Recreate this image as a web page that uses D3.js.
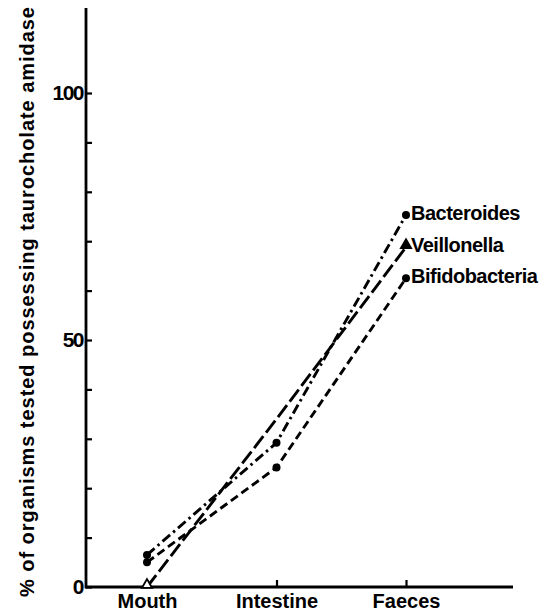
<!DOCTYPE html>
<html lang="en">
<head>
  <meta charset="UTF-8" />
  <title>Taurocholate amidase</title>
  <style>
    body { margin: 0; background: #fff; }
    svg { display: block; }
    text { font-family: "Liberation Sans", Arial, sans-serif; font-weight: bold; fill: #000; }
  </style>
  <script src="https://cdn.jsdelivr.net/npm/d3@7/dist/d3.min.js"></script>
</head>
<body>
  <script>
    const sites = ["Mouth", "Intestine", "Faeces"];
    const bacteroides = [6.5, 29.2, 75.3];
    const veillonella = [0, 34, 68.8];
    const bifidobacteria = [5, 24.2, 62.5];
    const yTickLabels = [0, 50, 100];
    const yTitle = "% of organisms tested possessing taurocholate amidase";

    const series = [
      { name: "Bacteroides", values: bacteroides, dash: "10,4,2.5,4", marker: "circle", show: [0, 1, 2] },
      { name: "Veillonella", values: veillonella, dash: "15,4.5", marker: "triangle", show: [0, 2] },
      { name: "Bifidobacteria", values: bifidobacteria, dash: "8.5,4.5", marker: "circle", show: [0, 1, 2] }
    ];

    const W = 554, H = 611;
    const svg = d3.select("body").append("svg").attr("width", W).attr("height", H);

    const x = d3.scalePoint().domain(sites).range([147, 406]);
    const y = d3.scaleLinear().domain([0, 100]).range([587, 93]);

    // y axis: ticks every 10 pointing inward, labels on 0/50/100
    const yAxis = d3.axisLeft(y)
      .tickValues(d3.range(0, 101, 10))
      .tickSize(-6)
      .tickPadding(3)
      .tickFormat(d => yTickLabels.includes(d) ? d : "");
    const gy = svg.append("g").attr("transform", "translate(86,0)").call(yAxis);
    gy.select(".domain").remove();
    gy.selectAll("line").attr("stroke", "#000").attr("stroke-width", 2.2);
    gy.selectAll("text").style("font-size", "21px").attr("letter-spacing", "-1.5");
    svg.append("line")
      .attr("x1", 86).attr("x2", 86)
      .attr("y1", y(117.2)).attr("y2", y(0) + 1.3)
      .attr("stroke", "#000").attr("stroke-width", 2.8);

    // x axis
    const xAxis = d3.axisBottom(x).tickSize(-7).tickPadding(7);
    const gx = svg.append("g").attr("transform", `translate(0,${y(0)})`).call(xAxis);
    gx.select(".domain").remove();
    gx.selectAll("line").attr("stroke", "#000").attr("stroke-width", 2.2);
    gx.selectAll("text").style("font-size", "20px");
    svg.append("line")
      .attr("x1", 85).attr("x2", 513)
      .attr("y1", y(0)).attr("y2", y(0))
      .attr("stroke", "#000").attr("stroke-width", 2.8);

    // y title
    svg.append("text")
      .attr("transform", `translate(34,${(6 + 598) / 2}) rotate(-90)`)
      .attr("text-anchor", "middle")
      .attr("textLength", 590)
      .attr("lengthAdjust", "spacing")
      .style("font-size", "20px")
      .text(yTitle);

    const line = d3.line()
      .x((d, i) => x(sites[i]))
      .y(d => y(d));

    series.forEach(s => {
      svg.append("path")
        .attr("d", line(s.values))
        .attr("fill", "none")
        .attr("stroke", "#000")
        .attr("stroke-width", 2.9)
        .attr("stroke-dasharray", s.dash);

      const pts = s.show.map(i => ({ i, v: s.values[i] }));
      if (s.marker === "circle") {
        svg.selectAll(null).data(pts).enter().append("circle")
          .attr("cx", d => x(sites[d.i]))
          .attr("cy", d => y(d.v))
          .attr("r", 4)
          .attr("fill", "#000");
      } else {
        svg.selectAll(null).data(pts).enter().append("path")
          .attr("d", d3.symbol(d3.symbolTriangle, 45))
          .attr("transform", d => `translate(${x(sites[d.i])},${y(d.v) - 2})`)
          .attr("fill", d => d.i === 0 ? "#fff" : "#000")
          .attr("stroke", "#000")
          .attr("stroke-width", 1.8);
      }

      svg.append("text")
        .attr("x", x("Faeces") + 5)
        .attr("y", y(s.values[2]) + 5)
        .style("font-size", "20px")
        .attr("letter-spacing", "-0.5")
        .text(s.name);
    });
  </script>
</body>
</html>
